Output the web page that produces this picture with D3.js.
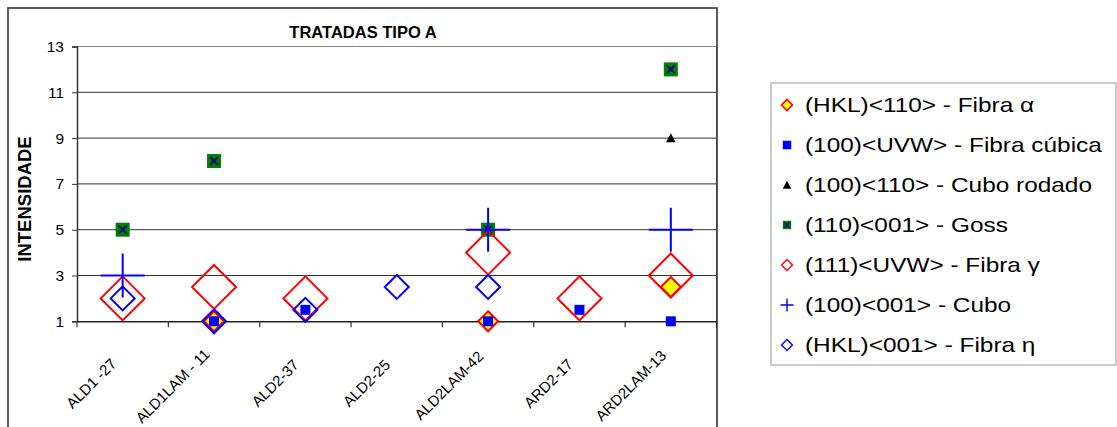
<!DOCTYPE html>
<html>
<head>
<meta charset="utf-8">
<script src="https://cdn.jsdelivr.net/npm/d3@7"></script>
<style>
  html, body { margin: 0; padding: 0; background: #fff; }
  svg { display: block; font-family: "Liberation Sans", Arial, sans-serif; }
</style>
</head>
<body>
<svg id="chart" width="1117" height="427"></svg>
<script>
// ---- Data ----
const categories = ["ALD1 -27", "ALD1LAM - 11", "ALD2-37", "ALD2-25", "ALD2LAM-42", "ARD2-17", "ARD2LAM-13"];
const yTicks = [1, 3, 5, 7, 9, 11, 13];
const titleText = "TRATADAS TIPO A";
const yTitle = "INTENSIDADE";

const fibraAlpha  = [null, 1, null, null, 1, null, 2.5];   // (HKL)<110>
const fibraCubica = [null, 1, 1.5, null, 1, 1.5, 1];       // (100)<UVW>
const cuboRodado  = [null, null, null, null, null, null, 9]; // (100)<110>
const goss        = [5, 8, null, null, 5, null, 12];       // (110)<001>
const fibraGamma  = [2, 2.5, 2, null, 4, 2, 3];            // (111)<UVW>
const cubo        = [3, null, null, null, 5, null, 5];     // (100)<001>
const fibraEta    = [2, 1, 1.5, 2.5, 2.5, null, null];     // (HKL)<001>

const seriesNames = [
  "(HKL)<110> - Fibra α",
  "(100)<UVW> - Fibra cúbica",
  "(100)<110> - Cubo rodado",
  "(110)<001> - Goss",
  "(111)<UVW> - Fibra γ",
  "(100)<001> - Cubo",
  "(HKL)<001> - Fibra η"
];

const series = [
  {name: seriesNames[0], values: fibraAlpha,  type: "alpha"},
  {name: seriesNames[1], values: fibraCubica, type: "square"},
  {name: seriesNames[2], values: cuboRodado,  type: "triangle"},
  {name: seriesNames[3], values: goss,        type: "goss"},
  {name: seriesNames[4], values: fibraGamma,  type: "gamma"},
  {name: seriesNames[5], values: cubo,        type: "plus"},
  {name: seriesNames[6], values: fibraEta,    type: "eta"}
];

// ---- Layout ----
const svg = d3.select("#chart");
const plot = {left: 77, right: 716.5, top: 46.5, bottom: 321.3};

const x = d3.scaleBand().domain(categories).range([plot.left, plot.right]).padding(0);
const y = d3.scaleLinear().domain([1, 13]).range([plot.bottom, plot.top]);

// outer chart border
svg.append("rect").attr("x", 8).attr("y", 8).attr("width", 709).attr("height", 440)
  .attr("fill", "none").attr("stroke", "#333").attr("stroke-width", 1.6);

// title
svg.append("text").attr("x", 363).attr("y", 38).attr("text-anchor", "middle")
  .attr("font-weight", "bold").attr("font-size", 16.5).attr("fill", "#000").text(titleText);

// gridlines
svg.append("g").selectAll("line").data(yTicks.filter(d => d > 1)).join("line")
  .attr("x1", plot.left).attr("x2", plot.right)
  .attr("y1", d => y(d)).attr("y2", d => y(d))
  .attr("stroke", d => d === 13 ? "#888" : "#333").attr("stroke-width", 1);

// plot right border
svg.append("line").attr("x1", plot.right).attr("x2", plot.right)
  .attr("y1", plot.top).attr("y2", plot.bottom).attr("stroke", "#444").attr("stroke-width", 1);

// y axis
const yAxis = svg.append("g").attr("transform", `translate(${plot.left},0)`)
  .call(d3.axisLeft(y).tickValues(yTicks).tickSize(5).tickPadding(8));
yAxis.select(".domain").attr("stroke", "#333").attr("stroke-width", 1.5);
yAxis.selectAll(".tick line").attr("stroke", "#333");
yAxis.selectAll(".tick text").attr("font-size", 15.5).attr("fill", "#000")
  .attr("font-family", "'Liberation Sans', Arial, sans-serif");

// x axis
const xAxis = svg.append("g").attr("transform", `translate(0,${plot.bottom})`)
  .call(d3.axisBottom(x).tickSize(0).tickFormat(""));
xAxis.select(".domain").attr("stroke", "#222").attr("stroke-width", 1.6);
// category boundary ticks
const bounds = categories.map(c => x(c)).concat([x(categories[categories.length - 1]) + x.bandwidth()]);
xAxis.append("g").selectAll("line").data(bounds).join("line")
  .attr("x1", d => d).attr("x2", d => d).attr("y1", 0).attr("y2", 6)
  .attr("stroke", "#333").attr("stroke-width", 1.2);
// rotated labels (longer labels sit a little higher, as in the reference)
const xLabels = xAxis.append("g").selectAll("text").data(categories).join("text")
  .attr("text-anchor", "end").attr("font-size", 15).attr("fill", "#000")
  .text(d => d);
xLabels.each(function(d) {
  const L = this.getComputedTextLength();
  const dx = -5.4 + 0.06 * (L - 63);
  const dy = 43.6 - 0.28 * (L - 63);
  d3.select(this).attr("transform",
    `translate(${x(d) + x.bandwidth() / 2 + dx},${dy}) rotate(-45)`);
});

// y title
svg.append("text").attr("transform", "translate(31,199) rotate(-90)")
  .attr("text-anchor", "middle").attr("font-weight", "bold").attr("font-size", 18.5)
  .attr("fill", "#000").text(yTitle);

// ---- Markers ----
function drawMarker(g, type, s) {
  if (type === "alpha") {
    const h = 10 * s;
    g.append("path").attr("d", `M0,${-h}L${h},0L0,${h}L${-h},0Z`)
      .attr("fill", "#ffff00").attr("stroke", "#ff0000").attr("stroke-width", 2 * Math.max(s, 0.8));
  } else if (type === "square") {
    const h = 5 * s;
    g.append("rect").attr("x", -h).attr("y", -h).attr("width", 2 * h).attr("height", 2 * h)
      .attr("fill", "#0000ff");
  } else if (type === "triangle") {
    const h = 4.8 * s;
    g.append("path").attr("d", `M0,${-h}L${h},${h * 0.85}L${-h},${h * 0.85}Z`).attr("fill", "#000");
  } else if (type === "goss") {
    const h = 7 * s, k = 4 * s;
    g.append("rect").attr("x", -h).attr("y", -h).attr("width", 2 * h).attr("height", 2 * h)
      .attr("fill", "#008000");
    g.append("path").attr("d", `M${-k},${-k}L${k},${k}M${-k},${k}L${k},${-k}`)
      .attr("stroke", "#000080").attr("stroke-width", 1.8 * Math.max(s, 0.8));
  } else if (type === "gamma") {
    const h = 22 * s;
    g.append("path").attr("d", `M0,${-h}L${h},0L0,${h}L${-h},0Z`)
      .attr("fill", "none").attr("stroke", "#ff0000").attr("stroke-width", 2 * Math.max(s, 0.7));
  } else if (type === "plus") {
    const h = 22 * s;
    g.append("path").attr("d", `M${-h},0L${h},0M0,${-h}L0,${h}`)
      .attr("stroke", "#0000ff").attr("stroke-width", 2 * Math.max(s, 0.7));
  } else if (type === "eta") {
    const h = 12 * s;
    g.append("path").attr("d", `M0,${-h}L${h},0L0,${h}L${-h},0Z`)
      .attr("fill", "none").attr("stroke", "#0000ff").attr("stroke-width", 2 * Math.max(s, 0.7));
  }
}

const markLayer = svg.append("g");
series.forEach(sr => {
  const pts = categories.map((c, i) => ({c, v: sr.values[i]})).filter(p => p.v !== null);
  pts.forEach(p => {
    const g = markLayer.append("g")
      .attr("transform", `translate(${x(p.c) + x.bandwidth() / 2},${y(p.v)})`);
    drawMarker(g, sr.type, 1);
  });
});

// ---- Legend ----
const legend = svg.append("g");
legend.append("rect").attr("x", 771).attr("y", 83).attr("width", 345).attr("height", 282)
  .attr("fill", "#fff").attr("stroke", "#999").attr("stroke-width", 1);
const legendScale = {alpha: 0.55, square: 0.85, triangle: 0.9, goss: 0.6, gamma: 0.25, plus: 0.3, eta: 0.45};
series.forEach((sr, i) => {
  const cy = 105 + i * 40;
  const g = legend.append("g").attr("transform", `translate(787,${cy})`);
  drawMarker(g, sr.type, legendScale[sr.type]);
  legend.append("g").attr("transform", `translate(805,${cy + 7}) scale(1.22,1)`)
    .append("text").attr("x", 0).attr("y", 0).attr("font-size", 20).attr("fill", "#000")
    .text(sr.name);
});
</script>
</body>
</html>
